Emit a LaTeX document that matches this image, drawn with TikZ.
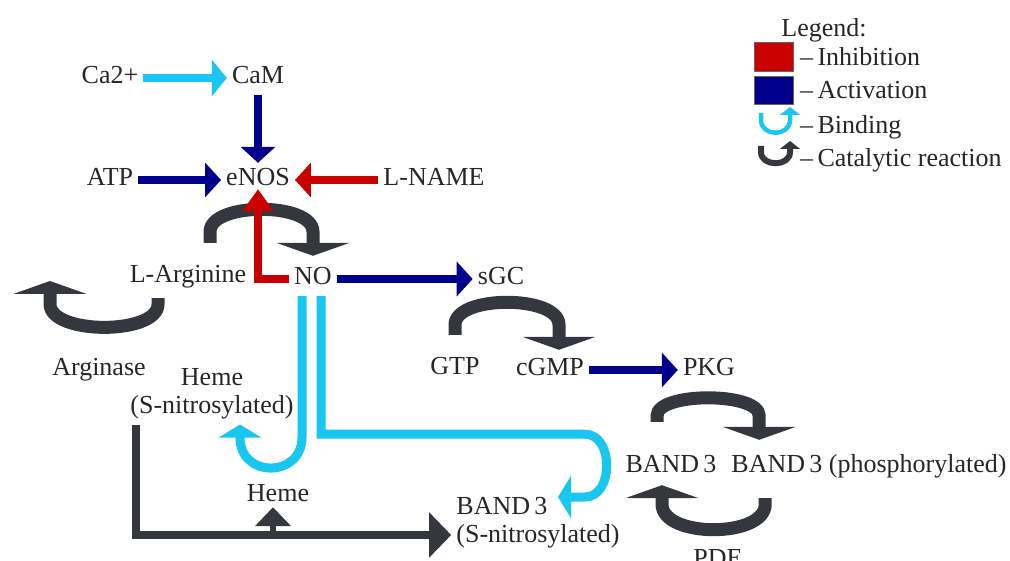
\documentclass[tikz,border=0pt]{standalone}
\usepackage{fontspec}
\setmainfont{Liberation Serif}
\usepackage{xcolor}
\usepackage{tikz}
\usetikzlibrary{
  arrows.meta,
  positioning,
  calc
}

\definecolor{actblue}{RGB}{0,0,140}
\definecolor{inhred}{RGB}{200,0,0}
\definecolor{bindcyan}{RGB}{25,198,240}
\definecolor{catgray}{RGB}{52,56,62}
\definecolor{txtgray}{RGB}{38,38,38}

\begin{document}
\begin{tikzpicture}[x=1pt,y=-1pt,
  lbl/.style={font=\fontsize{26}{28}\selectfont,text=txtgray,inner sep=5pt,text height=18pt,text depth=6pt},
  mlbl/.style={font=\fontsize{26}{28}\selectfont,text=txtgray,inner sep=5pt},
  act/.style={draw=actblue,line width=8pt,-{Triangle[length=16pt,width=34pt]}},
  inh/.style={draw=inhred,line width=8pt,-{Triangle[length=16pt,width=34pt]}},
  bind/.style={draw=bindcyan,line width=8pt,-{Triangle[length=15pt,width=36pt]}},
  bindloop/.style={draw=bindcyan,line width=9pt,-{Triangle[length=13pt,width=42pt]}},
  cat/.style={draw=catgray,line width=13pt,-{Triangle[length=13pt,width=73pt]}},
  catline/.style={draw=catgray,line width=8pt,-{Triangle[length=22pt,width=44pt]}}]

  \useasboundingbox (0,0) rectangle (1010,561);

  % species
  \node[lbl] (ca)    at (110,78)  {Ca2+};
  \node[lbl] (cam)   at (258,78)  {CaM};
  \node[lbl] (atp)   at (110,180) {ATP};
  \node[lbl] (enos)  at (258,180) {eNOS};
  \node[lbl] (lname) at (434,180) {L-NAME};
  \node[lbl] (larg)  at (188,277) {L-Arginine};
  \node[lbl] (no)    at (313,279) {NO};
  \node[lbl] (sgc)   at (501,279) {sGC};
  \node[lbl] (gtp)   at (455,369) {GTP};
  \node[lbl] (cgmp)  at (550,370) {cGMP};
  \node[lbl] (pkg)   at (709,370) {PKG};
  \node[lbl] (arg)   at (99,370)  {Arginase};
  \node[mlbl,align=center] (hemesn) at (212,394) {Heme\\(S-nitrosylated)};
  \node[lbl] (heme)  at (278,495) {Heme};
  \node[mlbl,align=left] (b3sn) at (538,523) {BAND\,3\\(S-nitrosylated)};
  \node[lbl] (b3)    at (671,466) {BAND\,3};
  \node[lbl] (b3p)   at (869,466) {BAND\,3 (phosphorylated)};
  \node[lbl] (pde)   at (718,560) {PDE};
  \coordinate (argprod) at (50,281);

  % activation / inhibition
  \draw[bind] (ca) -- (cam);
  \draw[act] (cam) -- (enos);
  \draw[act] (atp) -- (enos);
  \draw[inh] (lname) -- (enos);
  \draw[act] (no.east) -- (no.east -| sgc.west);
  \draw[act] (cgmp.east) -- (cgmp.east -| pkg.west);

  % catalytic reactions
  \draw[cat] ([xshift=22pt,yshift=17pt]larg.north) -- ++(0,-11)
    .. controls +(0,-30) and +(0,-30) .. ([yshift=30pt]no.north) -- ([yshift=6pt]no.north);
  \draw[inh,-{Triangle[length=22pt,width=30pt]}] (no.west) -| ([yshift=8pt]enos.south);
  \draw[cat] ([yshift=17pt]gtp.north) -- ++(0,-10)
    .. controls +(0,-30) and +(0,-30) .. ([xshift=9pt,yshift=28pt]cgmp.north) -- ([xshift=9pt,yshift=3pt]cgmp.north);
  \draw[cat] ([xshift=-14pt,yshift=27pt]b3.north) -- ++(0,-6)
    .. controls +(0,-24) and +(0,-24) .. ([xshift=33pt,yshift=33pt]b3p.north west) -- ([xshift=33pt,yshift=9pt]b3p.north west);
  \draw[cat] ([xshift=39pt,yshift=-15pt]b3p.south west) -- ++(0,6)
    .. controls +(0,34) and +(0,34) .. ([xshift=-9pt,yshift=-21pt]b3.south) -- ([xshift=-9pt,yshift=-2pt]b3.south);
  \draw[cat] ([xshift=-30pt,yshift=-4pt]larg.south) -- ++(0,6)
    .. controls +(0,31) and +(0,31) .. ([yshift=-23pt]argprod) -- (argprod);

  % binding of NO
  \draw[bindloop] ([xshift=-11pt]no.south) -- ++(0,141)
    .. controls +(0,41) and +(0,41) .. ([xshift=28pt,yshift=-13pt]hemesn.south) -- ([xshift=28pt]hemesn.south);
  \draw[bindloop] ([xshift=8pt]no.south) -- ++(0,138) -- ++(264,0)
    .. controls +(29,0) and +(29,0) .. (585,497) -- ([xshift=20pt,yshift=26pt]b3sn.center);

  % arginase path
  \draw[draw=catgray,line width=6pt,-{Triangle[length=19pt,width=35pt]}]
    ([xshift=-5pt,yshift=-23pt]heme.south) -- ([xshift=-5pt,yshift=5pt]heme.south);
  \draw[catline] ([xshift=37pt,yshift=-38pt]arg.south) |- ([yshift=-12pt]b3sn.west);

  % legend
  \node[lbl] (legend) at (824,31) {Legend:};
  \filldraw[fill=inhred,draw=black!60,line width=1pt] (754,43) rectangle (793,72);
  \filldraw[fill=actblue,draw=black!60,line width=1pt] (754,77) rectangle (793,105);
  \draw[draw=bindcyan,line width=4.5pt,-{Triangle[length=8pt,width=20pt]}]
    (761,113) -- (761,120) .. controls +(0,17) and +(0,17) .. (790,120) -- (790,107);
  \draw[draw=catgray,line width=6pt,-{Triangle[length=8pt,width=20pt]}]
    (761,146) -- (761,152) .. controls +(0,15) and +(0,15) .. (790,152) -- (790,141);
  \foreach \y/\t [count=\i] in {60/Inhibition,93/Activation,128/Binding,161/Catalytic reaction}
    \node[lbl,anchor=west] (leg\i) at (795,\y) {–\,\t};
\end{tikzpicture}
\end{document}
